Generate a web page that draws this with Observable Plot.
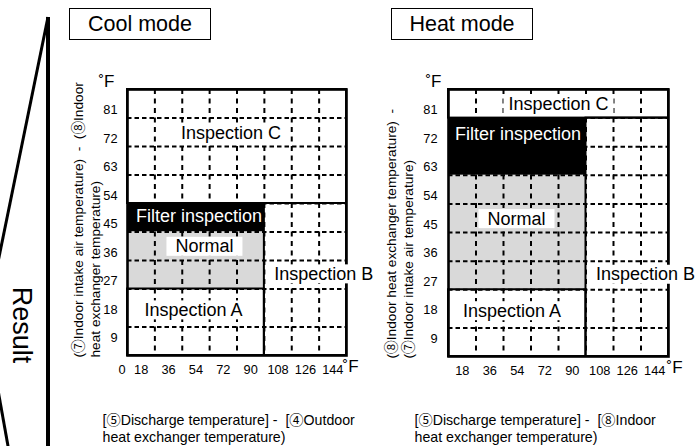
<!DOCTYPE html>
<html><head><meta charset="utf-8">
<script src="https://cdn.jsdelivr.net/npm/d3@7"></script>
<script src="https://cdn.jsdelivr.net/npm/@observablehq/plot@0.6"></script>
<style>
body{margin:0;background:#fff;}
#wrap{position:relative;width:697px;height:446px;overflow:hidden;font-family:"Liberation Sans",Arial,sans-serif;color:#000;}
.mode{position:absolute;top:8px;height:30px;width:140px;border:1px solid #000;font-size:21.5px;line-height:31px;text-align:center;background:#fff;}
.panel{position:absolute;top:0;}
</style></head><body>
<div id="wrap">
<svg id="bracket" width="697" height="446" style="position:absolute;left:0;top:0">
 <line x1="48" y1="17" x2="48" y2="452" stroke="#000" stroke-width="4"/>
 <line x1="48" y1="17" x2="-2" y2="262" stroke="#000" stroke-width="3"/>
 <line x1="-2" y1="390" x2="10.5" y2="460" stroke="#000" stroke-width="3"/>
 <text transform="translate(22.5,325) rotate(90)" text-anchor="middle" dy="0.35em" font-size="27" font-family="Liberation Sans, Arial, sans-serif">Result</text>
</svg>
<div class="mode" style="left:69px">Cool mode</div>
<div class="mode" style="left:391px">Heat mode</div>
</div>
<script>
// ---- data ----
const xCols = [18, 36, 54, 72, 90, 108, 126, 144];
const yRows = [81, 72, 63, 54, 45, 36, 27, 18, 9];
const coolRegions = [
  {kind: "C", x1: 0, x2: 144, y1: 45, y2: 81},
  {kind: "filter", x1: 0, x2: 90, y1: 36, y2: 45},
  {kind: "normal", x1: 0, x2: 90, y1: 18, y2: 36},
  {kind: "A", x1: 0, x2: 90, y1: 0, y2: 18},
  {kind: "B", x1: 90, x2: 144, y1: 0, y2: 45}
];
const heatRegions = [
  {kind: "C", x1: 0, x2: 144, y1: 72, y2: 81},
  {kind: "filter", x1: 0, x2: 90, y1: 54, y2: 72},
  {kind: "normal", x1: 0, x2: 90, y1: 18, y2: 54},
  {kind: "A", x1: 0, x2: 90, y1: 0, y2: 18},
  {kind: "B", x1: 90, x2: 144, y1: 0, y2: 72}
];
const coolLabels = [
  {kind: "C", text: "Inspection C", x: 68, y: 67.3},
  {kind: "filter", text: "Filter inspection", x: 47, y: 41},
  {kind: "normal", text: "Normal", x: 50.6, y: 31.4},
  {kind: "A", text: "Inspection A", x: 43.4, y: 13},
  {kind: "B", text: "Inspection B", x: 129, y: 22.7}
];
const heatLabels = [
  {kind: "C", text: "Inspection C", x: 72, y: 76.5},
  {kind: "filter", text: "Filter inspection", x: 45.5, y: 67},
  {kind: "normal", text: "Normal", x: 44.5, y: 40.3},
  {kind: "A", text: "Inspection A", x: 41.6, y: 13},
  {kind: "B", text: "Inspection B", x: 129, y: 22.8}
];
const coolYTitle = ["(⑦Indoor intake air temperature)  -  (⑧Indoor", "heat exchanger temperature)"];
const heatYTitle = ["(⑧Indoor heat exchanger temperature)  -", "(⑦Indoor intake air temperature)"];
const coolXTitle = ["[⑤Discharge temperature] -  [④Outdoor", "heat exchanger temperature)"];
const heatXTitle = ["[⑤Discharge temperature] -  [⑧Indoor", "heat exchanger temperature)"];
const originLabel = ["0"];
const unitLabel = ["˚F"];

// ---- styles ----
const FONT = "'Liberation Sans', 'Noto Sans CJK JP', sans-serif";
const regionFill = {C: "#ffffff", filter: "#000000", normal: "#d9d9d9", A: "#ffffff", B: "#ffffff"};
const outlined = new Set(["C", "A", "B"]);
const boxPad = {normal: 9, C: 5, A: 5, B: 5};
// the 9–18 row is drawn taller than the others in the original diagram
const tallRow = 38 / 28.5;
const yStretch = v => v <= 9 ? v : v <= 18 ? 9 + (v - 9) * tallRow : 9 + 9 * tallRow + (v - 18);

function panel(o) {
  const H = 446;
  const marks = [
    Plot.rect(o.regions, {x1: "x1", x2: "x2", y1: "y1", y2: "y2", fill: d => regionFill[d.kind]}),
    Plot.ruleY(yRows.slice(1), {strokeDasharray: "4.5,3", strokeWidth: 2, stroke: "#000"}),
    Plot.ruleX(xCols.slice(0, -1), {strokeDasharray: "5,4.5", strokeWidth: 2, stroke: "#000"}),
    Plot.rect(o.regions.filter(d => outlined.has(d.kind)), {x1: "x1", x2: "x2", y1: "y1", y2: "y2", fill: "none", stroke: "#000", strokeWidth: 2}),
    Plot.frame({stroke: "#000", strokeWidth: 2.6}),
    Plot.axisY({ticks: yRows, tickSize: 0, tickPadding: o.yPad, dy: 11, fontSize: 12.8, label: null}),
    Plot.text(xCols, {x: d => d - 9, text: d => String(d), frameAnchor: "bottom", dy: 18, fontSize: 12.8}),
    Plot.text(unitLabel, {frameAnchor: "top-left", textAnchor: "end", lineAnchor: "bottom", dx: o.yUnitDx, dy: -3, fontSize: 17}),
    Plot.text(unitLabel, {frameAnchor: "bottom-right", textAnchor: "start", dx: o.xUnitDx, dy: 16, fontSize: 17}),
    Plot.text([o.yTitle.join("\n")], {frameAnchor: "bottom-left", rotate: -90, textAnchor: "start", lineAnchor: "top", dx: o.yTitleDx, dy: 2, fontSize: 13.7, lineHeight: 1.2}),
    Plot.text([o.xTitle.join("\n")], {frameAnchor: "bottom-left", textAnchor: "start", lineAnchor: "top", dx: o.xTitleDx, dy: o.xTitleDy, fontSize: 14.2, lineHeight: 1.2}),
    Plot.text(o.labels.filter(d => d.kind !== "filter"), {x: "x", y: "y", text: "text", fontSize: 18, fill: "#000"}),
    Plot.text(o.labels.filter(d => d.kind === "filter"), {x: "x", y: "y", text: "text", fontSize: 18, fill: "#fff"})
  ];
  if (o.origin) marks.push(Plot.text(originLabel, {frameAnchor: "bottom-left", dx: -9, dy: 18, fontSize: 12.8}));
  const svg = Plot.plot({
    width: o.width, height: H,
    marginLeft: o.ml, marginRight: o.mr, marginTop: o.mt, marginBottom: o.mb,
    x: {domain: [0, 144], axis: null},
    y: {type: "linear", transform: yStretch, axis: null},
    color: {type: "identity"},
    style: {fontFamily: FONT, fontSize: "12.5px", overflow: "visible", background: "transparent", color: "#000"},
    marks
  });
  svg.classList.add("panel");
  svg.style.left = o.left + "px";
  svg.style.position = "absolute";
  svg.style.top = "0px";
  document.getElementById("wrap").appendChild(svg);
  // white boxes behind region labels
  const padByText = new Map(o.labels.filter(d => d.kind !== "filter").map(d => [d.text, boxPad[d.kind]]));
  svg.querySelectorAll("text").forEach(t => {
    const key = t.textContent;
    if (!padByText.has(key)) return;
    const pad = padByText.get(key);
    const b = t.getBBox();
    const r = document.createElementNS("http://www.w3.org/2000/svg", "rect");
    r.setAttribute("x", b.x - pad);
    r.setAttribute("y", b.y + 0.5);
    r.setAttribute("width", b.width + 2 * pad);
    r.setAttribute("height", b.height - 1);
    r.setAttribute("fill", "#fff");
    const tr = t.getAttribute("transform");
    if (tr) r.setAttribute("transform", tr);
    t.parentNode.insertBefore(r, t);
  });
}

panel({regions: coolRegions, labels: coolLabels, yTitle: coolYTitle, xTitle: coolXTitle,
  left: 60, width: 320, ml: 67, mr: 34, mt: 89, mb: 91, yPad: 10,
  yUnitDx: -13, xUnitDx: -4, yTitleDx: -56, xTitleDx: -25, xTitleDy: 57, origin: true});
panel({regions: heatRegions, labels: heatLabels, yTitle: heatYTitle, xTitle: heatXTitle,
  left: 375, width: 322, ml: 73, mr: 29, mt: 89, mb: 90, yPad: 11,
  yUnitDx: -7, xUnitDx: -2, yTitleDx: -64, xTitleDx: -34, xTitleDy: 56, origin: false});
</script>
</body></html>
